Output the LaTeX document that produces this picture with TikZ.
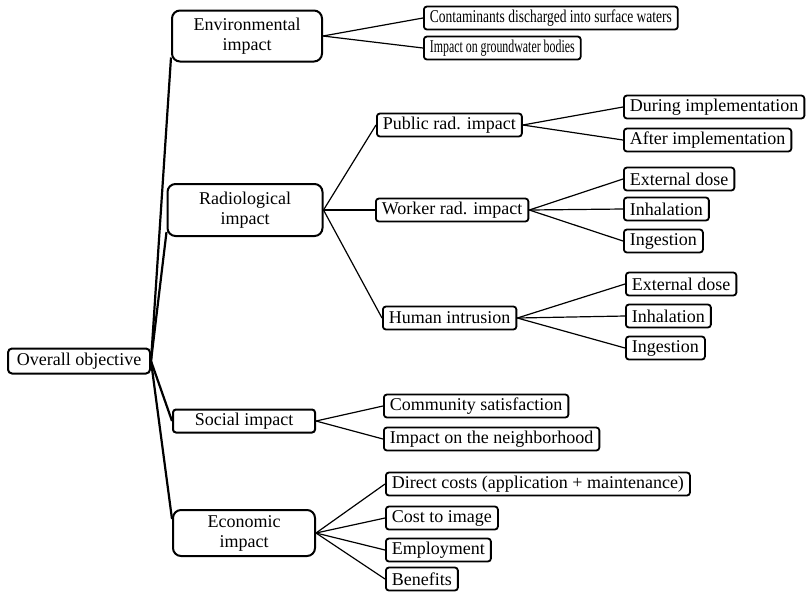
\documentclass[tikz,border=0pt]{standalone}
\usepackage{fontspec}
\setmainfont{Liberation Serif}
\newfontfamily\narrowfont{Liberation Serif}[FakeStretch=0.75]
\newfontfamily\narrowerfont{Liberation Serif}[FakeStretch=0.66]
\usetikzlibrary{calc}
\tikzset{
  topbox/.style={draw, line width=1pt, rounded corners=4pt, align=center,
    inner sep=1.5pt, minimum width=71pt, minimum height=11.5pt},
  leafbox/.style={draw, line width=0.9pt, rounded corners=1.5pt, anchor=west,
    inner xsep=3pt, inner ysep=0pt, minimum height=11.5pt},
  spine/.style={line width=1.1pt},
  link/.style={line width=0.6pt},
}

\begin{document}
\begin{tikzpicture}[font=\fontsize{9}{10}\selectfont, x=0.5pt, y=-0.5pt]
\useasboundingbox (0,0) rectangle (808,591);
\node[topbox, rounded corners=2pt, minimum height=12.5pt] (ov) at (79,361) {Overall objective};
\node[topbox, minimum width=75pt, minimum height=25.5pt] (env) at (247,36) {Environmental\\impact};
\node[topbox, minimum width=77.5pt, minimum height=26pt] (rad) at (245,210) {Radiological\\impact};
\node[topbox, rounded corners=1.5pt] (soc) at (244,421) {Social impact};
\node[topbox, minimum height=23pt] (eco) at (244,533) {Economic\\impact};
\draw[spine] (ov.east) -- ($(env.south west)+(0,-5)$);
\draw[spine] (ov.east) -- ($(rad.south west)+(0,-5)$);
\draw[spine] (ov.east) -- (soc.west);
\draw[spine] (ov.east) -- ($(eco.north west)+(0,10)$);
% environmental
\foreach \n/\y/\f/\t in {cont/18/\narrowfont/Contaminants discharged into surface waters,
                         gw/48/\narrowerfont/Impact on groundwater bodies} {
  \node[leafbox, font=\fontsize{9}{10}\f] (\n) at (423,\y) {\t};
  \draw[link] (env.east) -- (\n.west);
}
% radiological
\foreach \n/\x/\y/\t in {pub/376/125/Public rad. impact, wrk/375/210/Worker rad. impact,
                         hum/382/318/Human intrusion} {
  \node[leafbox] (\n) at (\x,\y) {\t};
  \draw[link] (rad.east) -- (\n.west);
}
\foreach \n/\y/\t in {dur/107/During implementation, aft/140/After implementation} {
  \node[leafbox] (\n) at (623,\y) {\t};
  \draw[link] (pub.east) -- (\n.west);
}
\foreach \n/\y/\t in {exta/179/External dose, inha/209/Inhalation, inga/241/Ingestion} {
  \node[leafbox] (\n) at (623,\y) {\t};
  \draw[link] (wrk.east) -- (\n.west);
}
\foreach \n/\y/\t in {extb/284/External dose, inhb/316/Inhalation, ingb/348/Ingestion} {
  \node[leafbox] (\n) at (625,\y) {\t};
  \draw[link] (hum.east) -- (\n.west);
}
% social
\foreach \n/\y/\t in {com/406/Community satisfaction, nbh/439/Impact on the neighborhood} {
  \node[leafbox] (\n) at (383,\y) {\t};
  \draw[link] (soc.east) -- (\n.west);
}
% economic
\foreach \n/\y/\t in {dir/484/Direct costs (application + maintenance), cst/518/Cost to image,
                      emp/550/Employment, ben/579/Benefits} {
  \node[leafbox] (\n) at (385,\y) {\t};
  \draw[link] (eco.east) -- (\n.west);
}
\end{tikzpicture}
\end{document}
